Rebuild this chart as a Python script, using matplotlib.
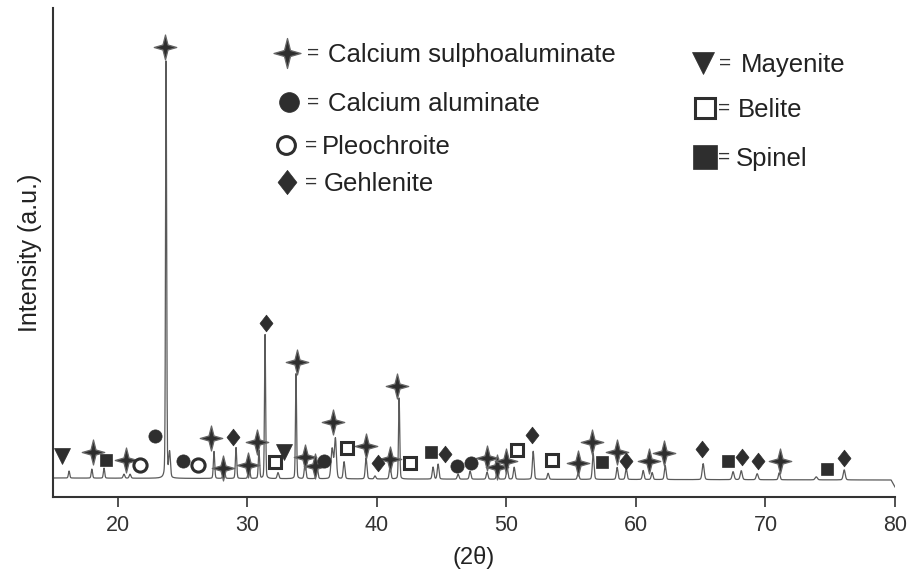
import numpy as np
import matplotlib
matplotlib.use("Agg")
import matplotlib.pyplot as plt
from matplotlib.path import Path

plt.rcParams['font.family'] = ['Liberation Sans', 'DejaVu Sans']

# peak list of the XRD trace: position (2theta), height (a.u.), FWHM (deg)
peak_pos = [16.24, 18.00, 18.94, 20.48, 20.95, 23.73, 24.00, 27.43, 28.20, 29.13,
            30.13, 30.90, 31.37, 32.37, 33.76, 34.46, 35.39, 36.55, 36.80, 37.47,
            39.17, 39.86, 41.02, 41.72, 44.34, 44.73, 46.27, 47.20, 48.51, 49.29,
            50.06, 50.60, 52.07, 53.22, 55.54, 56.70, 58.55, 59.25, 60.56, 61.25,
            62.26, 65.19, 67.50, 68.13, 69.36, 71.06, 73.92, 76.08]
peak_height = [7, 9, 10, 4, 4, 417, 25, 27, 11, 31,
               13, 28, 144, 6, 105, 15, 11, 30, 40, 17,
               21, 3, 12, 81, 12, 15, 5, 8, 7, 7,
               11, 12, 28, 6, 6, 26, 12, 11, 9, 7,
               14, 16, 8, 9, 6, 7, 3, 10]
peak_fwhm = [0.12, 0.12, 0.12, 0.15, 0.15, 0.10, 0.15, 0.12, 0.15, 0.12,
             0.15, 0.12, 0.10, 0.15, 0.10, 0.15, 0.15, 0.20, 0.18, 0.15,
             0.15, 0.15, 0.15, 0.11, 0.15, 0.15, 0.15, 0.15, 0.15, 0.15,
             0.15, 0.15, 0.15, 0.15, 0.15, 0.15, 0.15, 0.15, 0.15, 0.15,
             0.15, 0.18, 0.18, 0.18, 0.18, 0.15, 0.20, 0.18]
baseline_x = [15.0, 40.0, 79.7, 80.0]
baseline_y = [1.0, 0.0, -1.0, -8.0]

# phase markers (2theta, intensity)
csa_x = [23.65, 18.09, 20.64, 27.20, 28.13, 30.06, 30.75, 33.84, 34.46, 35.23,
         36.62, 39.17, 41.02, 41.56, 48.51, 49.29, 49.98, 55.54, 56.62, 58.55,
         61.02, 62.18, 71.14]
csa_y = [432, 27, 19, 41, 11, 14, 37, 117, 22, 13,
         57, 33, 20, 93, 21, 12, 18, 16, 37, 27,
         18, 26, 18]
ca_x = [22.88, 25.04, 35.93, 46.20, 47.28]
ca_y = [43, 18, 18, 13, 16]
pleo_x = [21.72, 26.20]
pleo_y = [14, 14]
geh_x = [28.90, 31.45, 40.10, 45.27, 51.99, 59.25, 65.12, 68.20, 69.44, 76.08]
geh_y = [42, 156, 16, 25, 44, 18, 30, 22, 18, 21]
bel_x = [32.14, 37.70, 42.57, 50.83, 53.53]
bel_y = [17, 31, 16, 29, 19]
spi_x = [19.09, 44.19, 57.39, 67.12, 74.77]
spi_y = [19, 27, 17, 18, 10]
may_x = [15.69, 32.84]
may_y = [23, 27]

dark = '#2e2e2e'

w = 0.2
star = Path([(0, 1), (w, w), (0.9, 0), (w, -w), (0, -1), (-w, -w), (-0.9, 0), (-w, w), (0, 1)],
            [Path.MOVETO] + [Path.LINETO] * 7 + [Path.CLOSEPOLY])
diamond = Path([(0, 1), (0.78, 0), (0, -1), (-0.78, 0), (0, 1)],
               [Path.MOVETO] + [Path.LINETO] * 3 + [Path.CLOSEPOLY])


def pattern(x):
    y = np.interp(x, baseline_x, baseline_y)
    for p, h, f in zip(peak_pos, peak_height, peak_fwhm):
        g = np.exp(-4 * np.log(2) * ((x - p) / f) ** 2)
        l = 1 / (1 + 4 * ((x - p) / f) ** 2)
        y = y + h * (0.8 * g + 0.2 * l)
    return y


styles = {
    'csa': dict(marker=star, ms=18, mfc=dark, mec='#666666', mew=0.9),
    'ca': dict(marker='o', ms=9.5, mfc=dark, mec=dark, mew=0.5),
    'pleo': dict(marker='o', ms=9.5, mfc='white', mec=dark, mew=2.2),
    'geh': dict(marker=diamond, ms=12, mfc=dark, mec=dark, mew=0.5),
    'bel': dict(marker='s', ms=9, mfc='white', mec=dark, mew=2.2),
    'spi': dict(marker='s', ms=8.5, mfc=dark, mec=dark, mew=0.5),
    'may': dict(marker='v', ms=11, mfc=dark, mec=dark, mew=0.5),
}

fig = plt.figure(figsize=(9.18, 5.78), dpi=100)
ax = fig.add_axes([53 / 918, 81 / 578, 842 / 918, 489 / 578])

x = np.linspace(15, 80, 6501)
ax.plot(x, pattern(x), color='#5a5a5a', lw=0.9)

for key, xs, ys in [('csa', csa_x, csa_y), ('ca', ca_x, ca_y), ('pleo', pleo_x, pleo_y),
                    ('geh', geh_x, geh_y), ('bel', bel_x, bel_y), ('spi', spi_x, spi_y),
                    ('may', may_x, may_y)]:
    ax.plot(xs, ys, ls='none', zorder=3, **styles[key])

ax.set_xlim(15, 80)
ax.set_ylim(-18, 471)
ax.set_xticks([20, 30, 40, 50, 60, 70, 80])
ax.set_yticks([])
ax.tick_params(axis='x', direction='out', length=7, width=1.2, colors='#333333',
               labelsize=15.5, pad=6)
for lab in ax.get_xticklabels():
    lab.set_fontfamily(['Liberation Sans Narrow', 'Liberation Sans'])
for s in ['top', 'right']:
    ax.spines[s].set_visible(False)
for s in ['left', 'bottom']:
    ax.spines[s].set_linewidth(1.5)
    ax.spines[s].set_color('#333333')

ax.set_xlabel('(2θ)', fontsize=17, color='#222222', labelpad=7)
ax.set_ylabel('Intensity (a.u.)', fontsize=18, color='#222222', labelpad=8)

# key drawn in pixel positions of the figure
legend_items = [
    ('csa', 'Calcium sulphoaluminate', 287, 53, 313, 328, 1.2),
    ('ca', 'Calcium aluminate', 289, 102, 313, 328, 1.5),
    ('pleo', 'Pleochroite', 286, 145, 311, 322, 1.35),
    ('geh', 'Gehlenite', 287, 182, 311, 324, 1.45),
    ('may', 'Mayenite', 703, 63, 725, 741, 1.45),
    ('bel', 'Belite', 705, 108, 724, 738, 1.6),
    ('spi', 'Spinel', 705, 157, 724, 736, 2.0),
]
for key, label, mx, my, ex, tx, scale in legend_items:
    st = dict(styles[key])
    st['ms'] = st['ms'] * scale
    fig.lines.append(plt.Line2D([mx / 918], [1 - my / 578], transform=fig.transFigure,
                                ls='none', **st))
    fig.text(ex / 918, 1 - (my + 6) / 578, '=', fontsize=15, color='#333333',
             ha='center', va='baseline')
    fig.text(tx / 918, 1 - (my + 9) / 578, label, fontsize=18.5, color='#222222',
             ha='left', va='baseline')

fig.savefig('out.png', dpi=100)
